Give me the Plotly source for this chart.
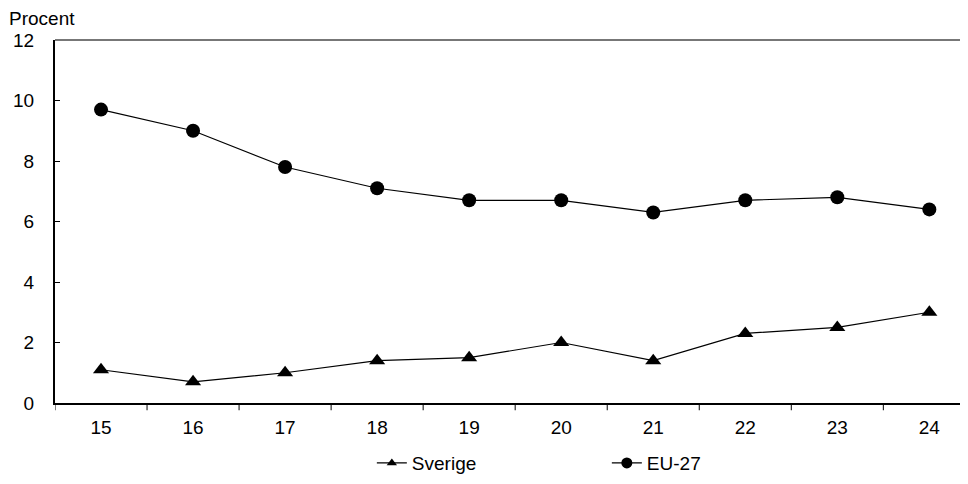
import plotly.graph_objects as go

years = ["15", "16", "17", "18", "19", "20", "21", "22", "23", "24"]
sverige = [1.1, 0.7, 1.0, 1.4, 1.5, 2.0, 1.4, 2.3, 2.5, 3.0]
eu27 = [9.7, 9.0, 7.8, 7.1, 6.7, 6.7, 6.3, 6.7, 6.8, 6.4]
y_ticks = [0, 2, 4, 6, 8, 10, 12]

FONT = "Liberation Sans, Arial, sans-serif"
FS = 19

fig = go.Figure()
fig.add_trace(go.Scatter(
    x=list(range(len(years))), y=sverige, name="Sverige", mode="lines+markers",
    line=dict(color="black", width=1.2),
    marker=dict(symbol="triangle-up", size=14, color="black"),
    showlegend=False,
))
fig.add_trace(go.Scatter(
    x=list(range(len(years))), y=eu27, name="EU-27", mode="lines+markers",
    line=dict(color="black", width=1.2),
    marker=dict(symbol="circle", size=14, color="black"),
    showlegend=False,
))
# legend entries with smaller symbols, as in the reference
fig.add_trace(go.Scatter(
    x=[None], y=[None], name="Sverige", mode="lines+markers",
    line=dict(color="black", width=1.2),
    marker=dict(symbol="triangle-up", size=9, color="black"),
))
fig.add_trace(go.Scatter(
    x=[None], y=[None], name="EU-27", mode="lines+markers",
    line=dict(color="black", width=1.2),
    marker=dict(symbol="circle", size=11, color="black"),
))

# page body has an 8px margin, so the figure is drawn 8px right/down
fig.update_layout(
    width=960, height=476,
    margin=dict(l=47, r=0, t=32, b=81, autoexpand=False),
    plot_bgcolor="white", paper_bgcolor="white",
    font=dict(family=FONT, size=FS, color="black"),
    showlegend=True,
    legend=dict(orientation="h", xref="container", yref="container",
                x=0.379, y=0.044, xanchor="left", yanchor="middle",
                entrywidth=190, entrywidthmode="pixels",
                font=dict(size=FS)),
    xaxis=dict(
        range=[-0.5, 9.42],
        tickmode="array", tickvals=list(range(len(years))), ticktext=years,
        showgrid=False, zeroline=False,
        showline=True, linecolor="black", linewidth=2,
        ticks="", ticklabelstandoff=6,
    ),
    yaxis=dict(
        range=[0, 12], tickvals=y_ticks,
        showgrid=False, zeroline=False,
        showline=True, linecolor="black", linewidth=2,
        ticks="inside", ticklen=5, tickcolor="black", tickwidth=1,
        ticklabelstandoff=15,
    ),
    annotations=[dict(text="Procent", xref="paper", yref="paper", x=0, y=1,
                      xanchor="left", yanchor="bottom", showarrow=False,
                      xshift=-48, yshift=9, font=dict(size=FS))],
    shapes=[dict(type="line", xref="paper", yref="paper", x0=0, x1=1, y0=1, y1=1,
                 line=dict(color="#777777", width=2))],
)

# category-boundary ticks below the x axis
for b in [i - 0.5 for i in range(len(years) + 1)]:
    fig.add_shape(type="line", xref="x", yref="paper", x0=b, x1=b, y0=0, y1=-0.02,
                  line=dict(color="black", width=1))

fig.write_html("out.html")
